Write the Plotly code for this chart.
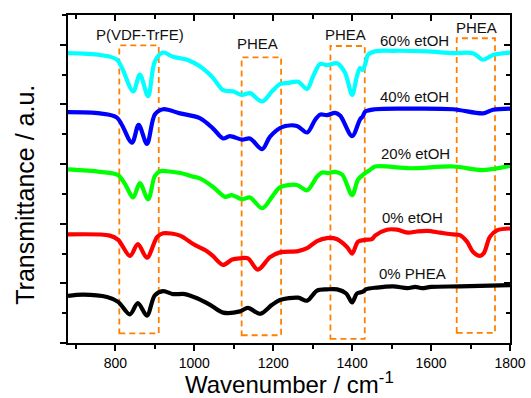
import plotly.graph_objects as go

# ---- data (wavenumber in cm^-1, offset transmittance in a.u.) ----
cyan_x = [680, 761, 804, 845, 862, 883, 900, 921, 946, 982, 1014, 1047, 1073, 1098, 1121, 1141, 1172, 1197, 1217, 1237, 1263, 1286, 1301, 1319, 1336, 1362, 1382, 1400, 1412, 1420, 1427, 1435, 1440, 1458, 1504, 1590, 1656, 1706, 1732, 1757, 1800]
cyan_y = [4.86, 4.83, 4.75, 4.22, 4.50, 4.14, 4.72, 4.87, 4.80, 4.75, 4.64, 4.45, 4.24, 4.22, 4.16, 4.19, 4.05, 4.22, 4.34, 4.36, 4.38, 4.26, 4.47, 4.68, 4.66, 4.69, 4.53, 4.16, 4.47, 4.61, 4.58, 4.72, 4.83, 4.89, 4.90, 4.89, 4.86, 4.86, 4.75, 4.83, 4.87]

blue_x = [680, 761, 804, 842, 859, 880, 900, 921, 964, 1014, 1047, 1073, 1090, 1121, 1141, 1172, 1192, 1222, 1260, 1286, 1306, 1319, 1336, 1357, 1370, 1400, 1420, 1427, 1433, 1458, 1547, 1656, 1732, 1757, 1800]
blue_y = [3.87, 3.85, 3.78, 3.36, 3.66, 3.34, 3.83, 3.92, 3.85, 3.77, 3.60, 3.43, 3.47, 3.41, 3.43, 3.25, 3.46, 3.62, 3.64, 3.53, 3.74, 3.83, 3.82, 3.86, 3.81, 3.47, 3.75, 3.80, 3.88, 3.92, 3.93, 3.92, 3.85, 3.91, 3.93]

green_x = [680, 761, 806, 825, 845, 862, 883, 900, 913, 931, 964, 997, 1014, 1047, 1078, 1095, 1121, 1141, 1172, 1197, 1217, 1260, 1286, 1311, 1324, 1339, 1357, 1375, 1400, 1415, 1433, 1445, 1458, 1547, 1656, 1732, 1800]
green_y = [2.91, 2.87, 2.82, 2.66, 2.44, 2.68, 2.41, 2.80, 2.88, 2.88, 2.85, 2.79, 2.76, 2.62, 2.45, 2.48, 2.41, 2.44, 2.26, 2.45, 2.61, 2.65, 2.56, 2.79, 2.86, 2.85, 2.87, 2.82, 2.48, 2.74, 2.85, 2.90, 2.96, 2.93, 2.96, 2.90, 2.97]

red_x = [680, 786, 807, 837, 857, 880, 906, 921, 964, 997, 1032, 1047, 1073, 1096, 1116, 1136, 1161, 1192, 1217, 1263, 1286, 1311, 1336, 1362, 1387, 1400, 1415, 1433, 1450, 1458, 1488, 1514, 1542, 1564, 1590, 1623, 1656, 1673, 1691, 1706, 1724, 1734, 1749, 1767, 1800]
red_y = [1.82, 1.80, 1.73, 1.46, 1.66, 1.43, 1.78, 1.84, 1.80, 1.66, 1.54, 1.46, 1.31, 1.40, 1.42, 1.42, 1.23, 1.44, 1.52, 1.54, 1.59, 1.71, 1.76, 1.74, 1.61, 1.50, 1.70, 1.73, 1.74, 1.80, 1.90, 1.90, 1.85, 1.87, 1.88, 1.85, 1.82, 1.81, 1.70, 1.53, 1.46, 1.51, 1.78, 1.89, 1.92]

black_x = [680, 718, 779, 807, 837, 857, 880, 900, 921, 946, 976, 1007, 1040, 1073, 1116, 1136, 1167, 1197, 1217, 1263, 1286, 1311, 1336, 1362, 1385, 1400, 1412, 1427, 1435, 1463, 1504, 1540, 1560, 1577, 1600, 1673, 1800]
black_y = [0.79, 0.81, 0.77, 0.69, 0.48, 0.67, 0.46, 0.80, 0.87, 0.82, 0.82, 0.75, 0.64, 0.51, 0.53, 0.59, 0.49, 0.64, 0.72, 0.76, 0.71, 0.88, 0.90, 0.90, 0.83, 0.68, 0.83, 0.86, 0.90, 0.93, 0.95, 0.92, 0.94, 0.92, 0.94, 0.95, 0.97]

series_names = ["60% etOH", "40% etOH", "20% etOH", "0% etOH", "0% PHEA"]
series_label_x = [1558, 1558, 1560, 1554, 1553]
series_label_y = [5.07, 4.14, 3.17, 2.11, 1.17]

band_names = ["P(VDF-TrFE)", "PHEA", "PHEA", "PHEA"]
band_x0 = [810, 1120, 1345, 1665]
band_x1 = [910, 1220, 1432, 1762]
band_y0 = [0.16, 0.13, 0.07, 0.17]
band_y1 = [4.99, 4.79, 4.98, 5.11]
band_label_x = [862, 1161, 1382, 1714]
band_label_y = [5.17, 5.02, 5.18, 5.29]

x_ticks = [800, 1000, 1200, 1400, 1600, 1800]

# ---- figure ----
FONT = "Arial, 'Liberation Sans', sans-serif"
colors = ["#00FFFF", "#0000FF", "#00FF00", "#FF0000", "#000000"]
xs = [cyan_x, blue_x, green_x, red_x, black_x]
ys = [cyan_y, blue_y, green_y, red_y, black_y]

fig = go.Figure()
for name, c, x, y in zip(series_names, colors, xs, ys):
    fig.add_trace(go.Scatter(x=x, y=y, mode="lines", name=name,
                             line=dict(color=c, width=4.2, shape="spline", smoothing=0.9),
                             showlegend=False, hoverinfo="skip"))

# invisible trace to create mirror axes with inside ticks
fig.add_trace(go.Scatter(x=[1000], y=[1], xaxis="x2", yaxis="y2", mode="markers",
                         marker=dict(opacity=0), showlegend=False, hoverinfo="skip"))

for x0, x1, y0, y1 in zip(band_x0, band_x1, band_y0, band_y1):
    fig.add_shape(type="rect", x0=x0, x1=x1, y0=y0, y1=y1, xref="x", yref="y",
                  line=dict(color="#FF8000", width=1.8, dash="6px,4px"),
                  fillcolor="rgba(0,0,0,0)", layer="below")

for t, x, y in zip(band_names, band_label_x, band_label_y):
    fig.add_annotation(text=t, x=x, y=y, xref="x", yref="y", showarrow=False,
                       font=dict(family=FONT, size=15, color="#111111"))
for t, x, y in zip(series_names, series_label_x, series_label_y):
    fig.add_annotation(text=t, x=x, y=y, xref="x", yref="y", showarrow=False,
                       font=dict(family=FONT, size=15, color="#111111"))

# axis titles
fig.add_annotation(text="Wavenumber / cm<sup>-1</sup>", x=0.5, y=-0.122, xref="paper", yref="paper",
                   xanchor="center", yanchor="middle", showarrow=False,
                   font=dict(family=FONT, size=24, color="#000000"))
fig.add_annotation(text="Transmittance / a.u.", x=-0.098, y=0.451, xref="paper", yref="paper",
                   xanchor="center", yanchor="middle", showarrow=False, textangle=-90,
                   font=dict(family=FONT, size=25, color="#000000"))

axis_common = dict(showgrid=False, zeroline=False, linecolor="black", linewidth=1.5,
                   tickcolor="black", tickwidth=1.5, automargin=False)

fig.update_layout(
    template="none",
    width=531, height=398,
    margin=dict(l=68, r=21, t=15, b=55, pad=0),
    paper_bgcolor="white", plot_bgcolor="white",
    font=dict(family=FONT, color="black"),
    xaxis=dict(range=[680, 1800], tickmode="array", tickvals=x_ticks,
               ticks="outside", ticklen=6, showline=True, mirror=True,
               tickfont=dict(family=FONT, size=14, color="black"),
               minor=dict(dtick=100, tick0=0, ticks="outside", ticklen=4, tickwidth=1.5, tickcolor="black"),
               **axis_common),
    yaxis=dict(range=[0, 5.5], dtick=1, tick0=0, ticks="outside", ticklen=6,
               showticklabels=False, showline=True, mirror=True,
               minor=dict(dtick=0.5, tick0=0, ticks="outside", ticklen=4, tickwidth=1.5, tickcolor="black"),
               **axis_common),
    xaxis2=dict(range=[680, 1800], overlaying="x", side="top", anchor="y2",
                tickmode="array", tickvals=x_ticks, ticks="inside", ticklen=6,
                showticklabels=False, showline=False, automargin=False,
                minor=dict(dtick=100, tick0=0, ticks="inside", ticklen=4, tickwidth=1.5, tickcolor="black"),
                showgrid=False, zeroline=False, tickcolor="black", tickwidth=1.5),
    yaxis2=dict(range=[0, 5.5], overlaying="y", side="right", anchor="x2",
                dtick=1, tick0=0, ticks="inside", ticklen=6, showticklabels=False, showline=False,
                automargin=False,
                minor=dict(dtick=0.5, tick0=0, ticks="inside", ticklen=4, tickwidth=1.5, tickcolor="black"),
                showgrid=False, zeroline=False, tickcolor="black", tickwidth=1.5),
)

fig.write_html("out.html", config={"displayModeBar": False},
               post_script="document.body.style.margin='0';document.body.style.overflow='hidden';")
